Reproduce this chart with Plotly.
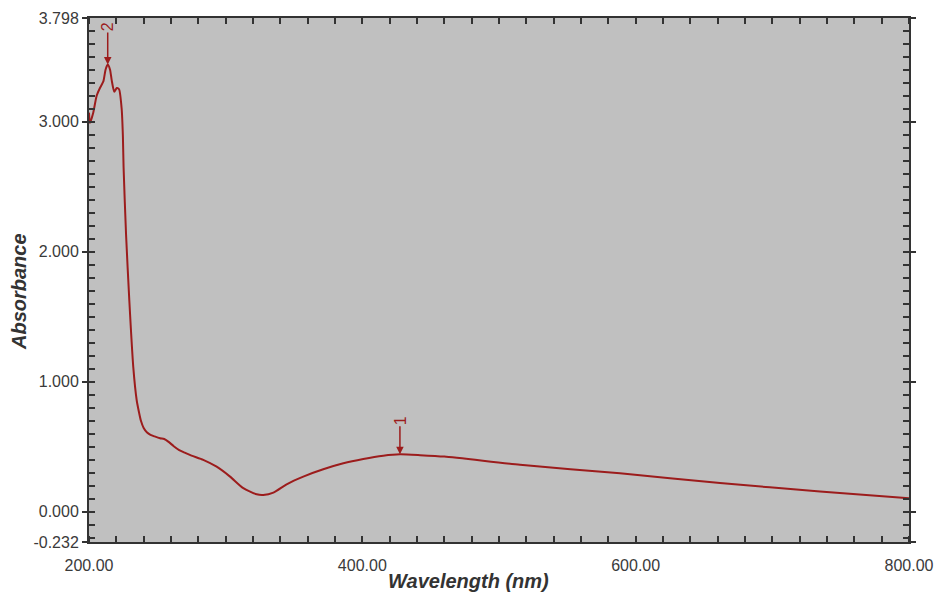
import plotly.graph_objects as go

# Spectrum data
wavelength = [200, 200.7, 203.1, 205.6, 208, 210.5, 212.1, 213.7, 215.4, 216.6, 218.5,
              220.3, 222, 223.9, 224.8, 225.3, 227.1, 229.5, 232.4, 234.9, 236.5, 238,
              240, 242.5, 245, 248, 252, 255, 258, 262, 266, 270, 275, 283.6, 293.4,
              303.2, 312.9, 322.7, 327.5, 334.9, 344.6, 356.8, 371.4, 386.1, 400.7, 415.3,
              427.5, 442.2, 460, 515.4, 588.5, 661.7, 734.9, 800]
absorbance = [3.07, 2.99, 3.07, 3.20, 3.26, 3.31, 3.40, 3.44, 3.40, 3.32, 3.23,
              3.26, 3.25, 3.10, 2.89, 2.65, 2.135, 1.625, 1.113, 0.858, 0.77, 0.70,
              0.645, 0.610, 0.592, 0.580, 0.566, 0.560, 0.540, 0.505, 0.475, 0.455, 0.432,
              0.400, 0.347,
              0.271, 0.182, 0.135, 0.130, 0.148, 0.212, 0.271, 0.327, 0.373, 0.406, 0.431,
              0.442, 0.436, 0.425, 0.362, 0.296, 0.222, 0.156, 0.105]

peak_labels = ["1", "2"]
peak_wl = [427.5, 213.7]
peak_abs = [0.442, 3.44]

x_ticks = [200, 400, 600, 800]
x_ticktext = ["200.00", "400.00", "600.00", "800.00"]
y_ticks = [-0.232, 0, 1, 2, 3, 3.798]
y_ticktext = ["-0.232", "0.000", "1.000", "2.000", "3.000", "3.798"]

line_color = "#9c1c1c"
frame_color = "#333333"
text_color = "#3a3a3a"

fig = go.Figure()
fig.add_trace(go.Scatter(x=wavelength, y=absorbance, mode="lines",
                         line=dict(color=line_color, width=2, shape="spline", smoothing=0.6),
                         hoverinfo="x+y", showlegend=False))

for lab, px, py, ay in zip(peak_labels, peak_wl, peak_abs, [-34, -38]):
    fig.add_annotation(x=px, y=py, text=lab, showarrow=True, ax=0, ay=ay,
                       arrowhead=2, arrowsize=1, arrowwidth=1.5, arrowcolor=line_color,
                       textangle=-90, font=dict(family="Liberation Sans, Arial", size=16,
                                                color=line_color))

fig.add_annotation(xref="paper", yref="paper", x=(468 - 89) / 820, y=-(581 - 542) / 524,
                   xanchor="center", yanchor="middle",
                   text="<b><i>Wavelength (nm)</i></b>", showarrow=False,
                   font=dict(family="Liberation Sans, Arial", size=20, color=frame_color))
fig.add_annotation(xref="paper", yref="paper", x=-(89 - 19) / 820, y=(542 - 292) / 524,
                   xanchor="center", yanchor="middle",
                   text="<b><i>Absorbance</i></b>", showarrow=False, textangle=-90,
                   font=dict(family="Liberation Sans, Arial", size=20, color=frame_color))

fig.update_layout(
    width=934, height=593,
    margin=dict(l=89, r=25, t=18, b=51, autoexpand=False),
    paper_bgcolor="white", plot_bgcolor="#c0c0c0",
    font=dict(family="Liberation Sans, Arial", size=16, color=text_color),
)
fig.update_xaxes(range=[200, 800], tickmode="array", tickvals=x_ticks, ticktext=x_ticktext,
                 ticks="", showgrid=False, zeroline=False, automargin=False,
                 ticklabelstandoff=8,
                 showline=True, linecolor=frame_color, linewidth=2, mirror="allticks",
                 minor=dict(ticks="inside", tickmode="linear", tick0=200, dtick=20,
                            ticklen=6, tickwidth=2, tickcolor=frame_color, showgrid=False))
fig.update_yaxes(range=[-0.232, 3.798], tickmode="array", tickvals=y_ticks, ticktext=y_ticktext,
                 ticks="outside", ticklen=5, tickwidth=2, tickcolor=frame_color,
                 showgrid=False, zeroline=False, automargin=False,
                 showline=True, linecolor=frame_color, linewidth=2, mirror="allticks",
                 minor=dict(ticks="inside", tickmode="linear", tick0=0, dtick=0.1,
                            ticklen=6, tickwidth=2, tickcolor=frame_color, showgrid=False))

fig.write_html("out.html")
